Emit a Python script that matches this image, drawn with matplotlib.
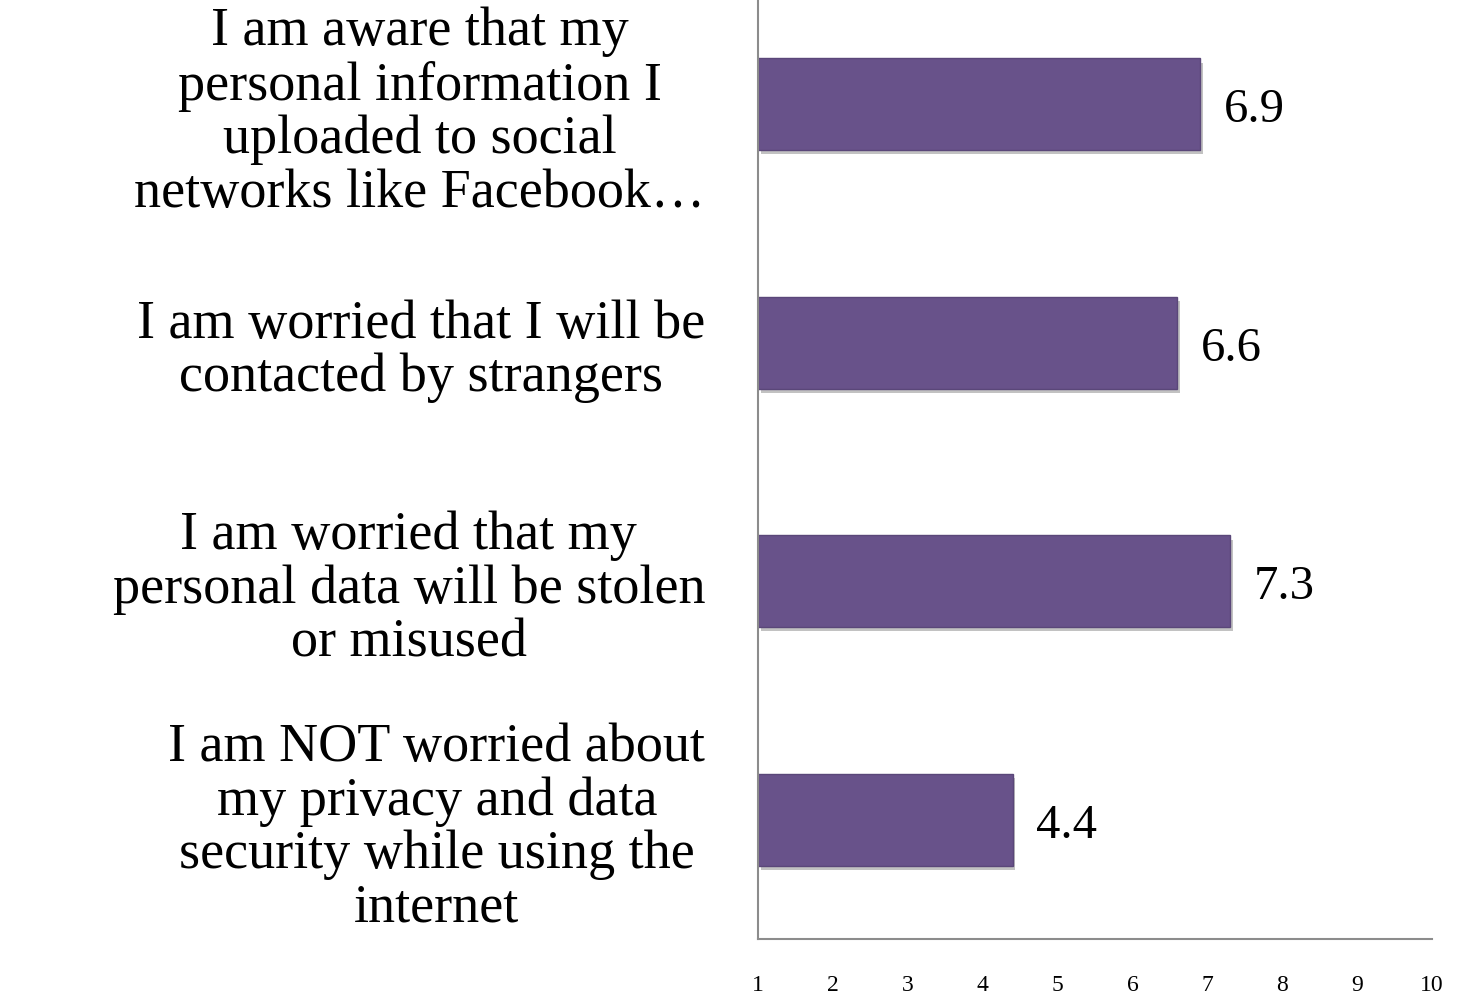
import matplotlib
matplotlib.use("Agg")
from matplotlib import pyplot as plt
from matplotlib import patheffects as pe

# survey statements, top to bottom
labels = [
    "I am aware that my\npersonal information I\nuploaded to social\nnetworks like Facebook\u2026",
    "I am worried that I will be\ncontacted by strangers",
    "I am worried that my\npersonal data will be stolen\nor misused",
    "I am NOT worried about\nmy privacy and data\nsecurity while using the\ninternet",
]
scores = [6.9, 6.6, 7.3, 4.4]
ticks = [1, 2, 3, 4, 5, 6, 7, 8, 9, 10]

BAR = "#68528a"
SERIF = "Liberation Serif"

fig = plt.figure(figsize=(14.64, 9.95), dpi=100)
ax = fig.add_axes([758 / 1464, 1 - 940 / 995, (1432 - 758) / 1464, 954 / 995])

pos = list(range(len(labels)))
bars = ax.barh(pos, [s - 1 for s in scores], left=1, height=0.385,
               color=BAR, edgecolor="#5a4779", linewidth=1.0)
for b in bars:
    b.set_path_effects([pe.SimplePatchShadow(offset=(2, -3), shadow_rgbFace="#9a9a9a", alpha=0.6),
                        pe.Normal()])

# value labels right of each bar
labs = ax.bar_label(bars, labels=[f"{s:.1f}" for s in scores], padding=17,
                    fontsize=35, family=SERIF)
for t in labs:
    t.set_va("center_baseline")

ax.set_xlim(1, 10)
ax.set_ylim(len(labels) - 0.5, -0.5)
ax.set_xticks(ticks)
ax.set_xticklabels([str(t) for t in ticks], fontsize=17, family=SERIF)
ax.tick_params(axis="x", length=0, pad=25)

ax.set_yticks(pos)
ax.set_yticklabels(labels, fontsize=39, family=SERIF, multialignment="center",
                   linespacing=1.08)
ax.tick_params(axis="y", length=0, pad=38)

for side in ["top", "right"]:
    ax.spines[side].set_visible(False)
for side in ["left", "bottom"]:
    ax.spines[side].set_color("#8c8c8c")
    ax.spines[side].set_linewidth(1.5)

fig.savefig("out.png", dpi=100)
